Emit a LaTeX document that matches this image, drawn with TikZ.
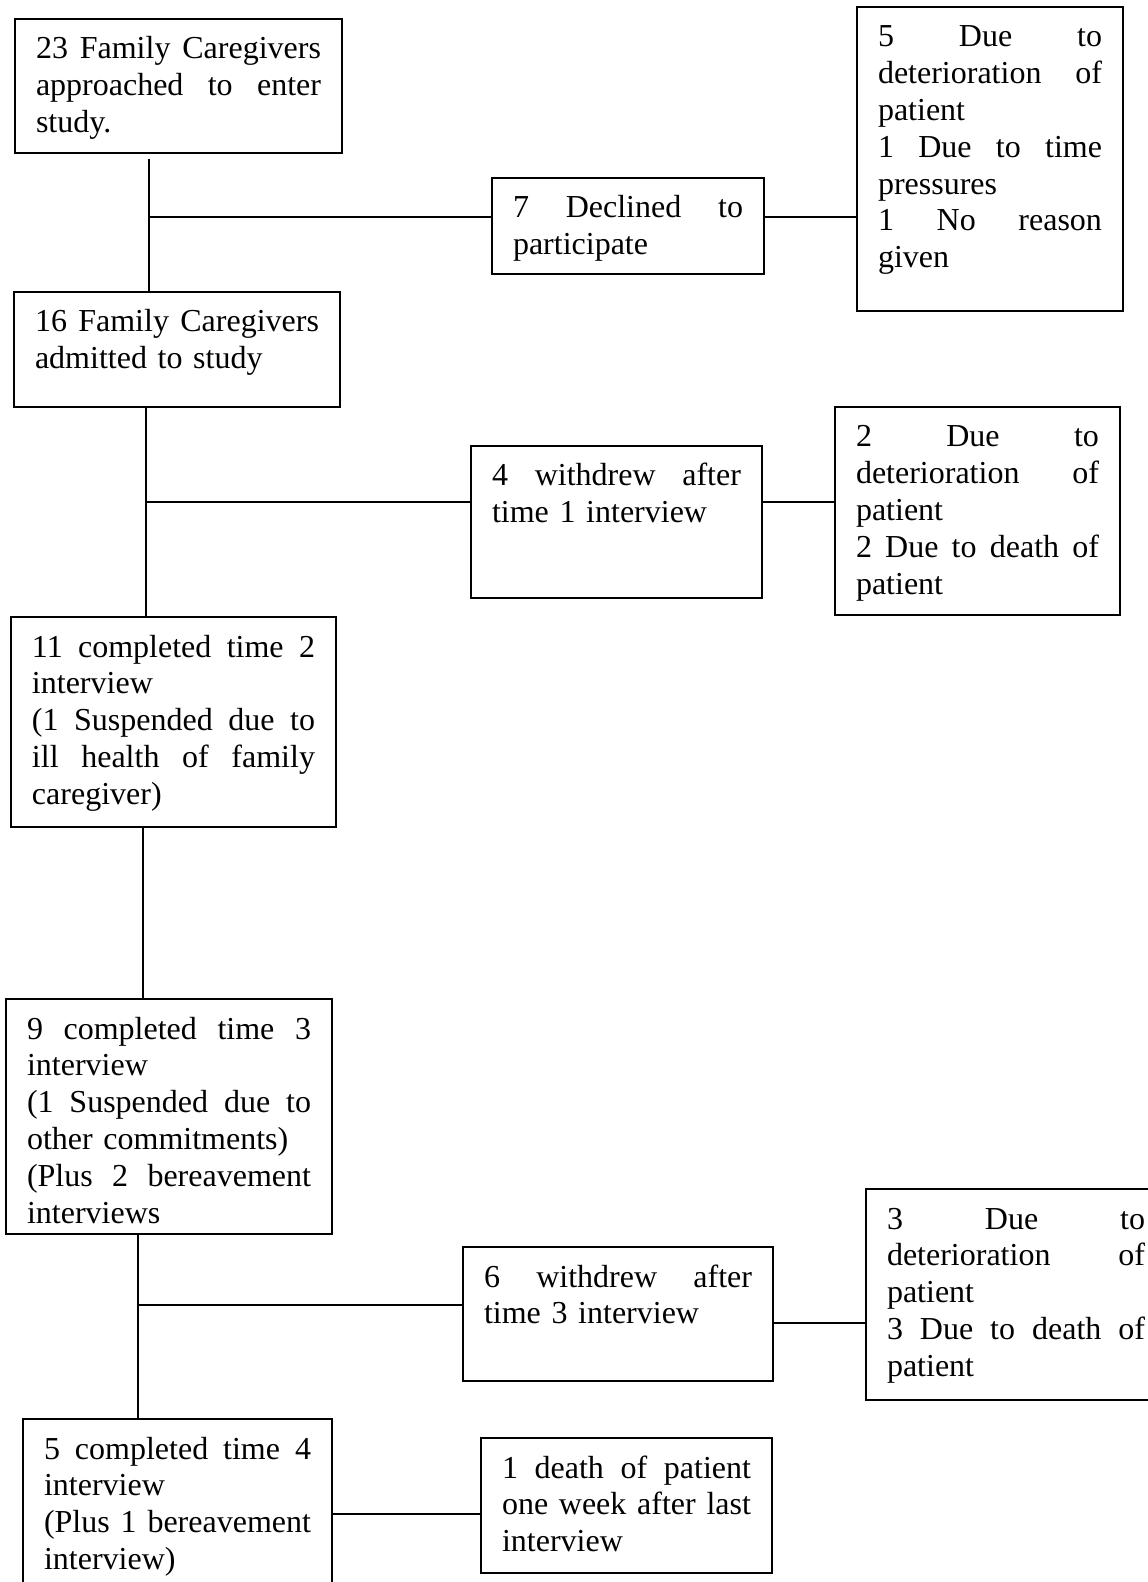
\documentclass[tikz,border=0pt]{standalone}
\usepackage{fontspec}
\setmainfont{Liberation Serif}
\usetikzlibrary{positioning,calc}

\begin{document}
\begin{tikzpicture}[
  x=0.5pt, y=-0.5pt,
  font=\fontsize{16}{18.4}\selectfont,
  stage/.style={draw, line width=0.9pt, anchor=north west, outer sep=0pt,
    inner xsep=10.5pt, inner ysep=0pt, align=left, text height=20pt},
  link/.style={line width=0.7pt}
]
\useasboundingbox (0,0) rectangle (1147,1582);
\node[stage, text width=142.5pt, text depth=47pt] (approach) at (15,19) {%
  23\hfill Family\hfill Caregivers\\ approached\hfill to\hfill enter\\ study.};
\node[stage, text width=142pt, text depth=37.5pt] (admit) at (14,292) {%
  16\hfill Family\hfill Caregivers\\ admitted to study};
\node[stage, text width=115pt, text depth=28pt] (decline) at (492,178) {%
  7\hfill Declined\hfill to\\ participate};
\node[stage, text width=112pt, text depth=132pt] (declwhy) at (857,7) {%
  5\hfill Due\hfill to\\ deterioration\hfill of\\ patient\\
  1\hfill Due\hfill to\hfill time\\ pressures\\ 1\hfill No\hfill reason\\ given};
\node[stage, text width=124.5pt, text depth=56pt] (wd1) at (471,446) {%
  4\hfill withdrew\hfill after\\ time 1 interview};
\node[stage, text width=121.5pt, text depth=84pt] (wd1why) at (835,407) {%
  2\hfill Due\hfill to\\ deterioration\hfill of\\ patient\\
  2\hfill Due\hfill to\hfill death\hfill of\\ patient};
\node[stage, text width=141.5pt, text depth=85pt] (t2) at (11,617) {%
  11\hfill completed\hfill time\hfill 2\\ interview\\
  (1\hfill Suspended\hfill due\hfill to\\ ill\hfill health\hfill of\hfill family\\ caregiver)};
\node[stage, text width=142pt, text depth=97.5pt] (t3) at (6,999) {%
  9\hfill completed\hfill time\hfill 3\\ interview\\
  (1\hfill Suspended\hfill due\hfill to\\ other commitments)\\
  (Plus\hfill 2\hfill bereavement\\ interviews};
\node[stage, text width=134pt, text depth=47pt] (wd3) at (463,1247) {%
  6\hfill withdrew\hfill after\\ time 3 interview};
\node[stage, text width=129pt, text depth=85.5pt] (wd3why) at (866,1189) {%
  3\hfill Due\hfill to\\ deterioration\hfill of\\ patient\\
  3\hfill Due\hfill to\hfill death\hfill of\\ patient};
\node[stage, text width=133.5pt, text depth=80pt] (t4) at (23,1419) {%
  5\hfill completed\hfill time\hfill 4\\ interview\\
  (Plus\hfill 1\hfill bereavement\\ interview)};
\node[stage, text width=124.5pt, text depth=47.5pt] (death) at (481,1438) {%
  1\hfill death\hfill of\hfill patient\\ one\hfill week\hfill after\hfill last\\ interview};
\coordinate (j1) at (149,217);
\coordinate (j2) at (146,502);
\coordinate (j3) at (143,900);
\coordinate (j4) at (138,1305);
\coordinate (lvl3) at (0,1323);
\coordinate (lvl4) at (0,1514);
\draw[link, shorten <=3pt] (approach.south -| j1) -- (admit.north -| j1);
\draw[link] (j1) -- (decline.west |- j1);
\draw[link] (decline.east |- j1) -- (declwhy.west |- j1);
\draw[link] (admit.south -| j2) -- (t2.north -| j2);
\draw[link] (j2) -- (wd1.west |- j2);
\draw[link] (wd1.east |- j2) -- (wd1why.west |- j2);
\draw[link] (t2.south -| j3) -- (t3.north -| j3);
\draw[link] (t3.south -| j4) -- (t4.north -| j4);
\draw[link] (j4) -- (wd3.west |- j4);
\draw[link] (wd3.east |- lvl3) -- (wd3why.west |- lvl3);
\draw[link] (t4.east |- lvl4) -- (death.west |- lvl4);
\end{tikzpicture}
\end{document}
